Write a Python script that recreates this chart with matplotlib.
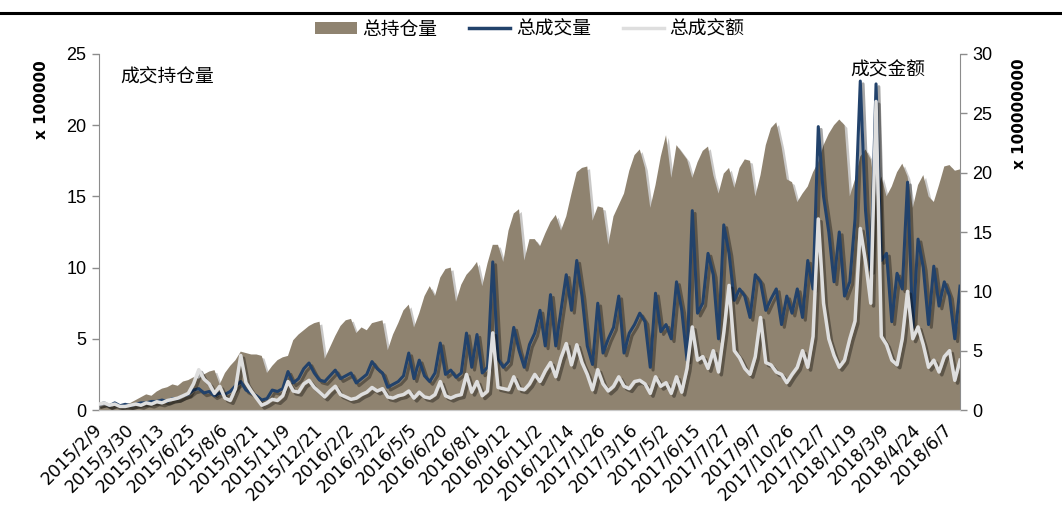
import numpy as np
import matplotlib
matplotlib.use('Agg')
import matplotlib.pyplot as plt
import matplotlib.patheffects as pe
from matplotlib.lines import Line2D
from matplotlib.patches import Patch

plt.rcParams['font.family'] = ['Liberation Sans', 'Noto Sans CJK SC', 'DejaVu Sans']
CJK = ['Noto Sans CJK SC', 'DejaVu Sans']

# ------------------------------------------------------------
# data (one sample every ~5 trading days)
# ------------------------------------------------------------
tick_labels = ['2015/2/9', '2015/3/30', '2015/5/13', '2015/6/25', '2015/8/6',
               '2015/9/21', '2015/11/9', '2015/12/21', '2016/2/2', '2016/3/22',
               '2016/5/5', '2016/6/20', '2016/8/1', '2016/9/12', '2016/11/2',
               '2016/12/14', '2017/1/26', '2017/3/16', '2017/5/2', '2017/6/15',
               '2017/7/27', '2017/9/7', '2017/10/26', '2017/12/7', '2018/1/19',
               '2018/3/9', '2018/4/24', '2018/6/7']

# 总持仓量 (x 100000)
hold = [0.2, 0.3, 0.3, 0.4, 0.3, 0.4, 0.5, 0.7, 0.9, 1.1,
        1.0, 1.3, 1.5, 1.6, 1.8, 1.7, 2.0, 2.1, 2.3, 2.2,
        2.5, 2.7, 2.8, 1.8, 2.6, 3.1, 3.5, 4.1, 4.0, 3.9,
        3.9, 3.8, 2.6, 3.1, 3.5, 3.7, 3.8, 4.9, 5.3, 5.6,
        5.9, 6.1, 6.2, 3.6, 4.4, 5.2, 5.9, 6.3, 6.4, 5.4,
        5.8, 5.6, 6.1, 6.2, 6.3, 4.2, 5.3, 6.1, 7.0, 7.4,
        5.8, 6.8, 8.0, 8.7, 8.0, 9.3, 9.9, 10.0, 7.6, 8.8,
        9.5, 9.9, 10.4, 8.7, 10.3, 11.6, 11.6, 10.4, 12.6, 13.8,
        14.1, 10.5, 12.0, 12.0, 11.5, 12.4, 13.2, 13.7, 12.6, 13.6,
        15.2, 16.7, 17.0, 17.1, 13.3, 14.3, 14.2, 11.6, 13.6, 14.4,
        15.2, 16.8, 17.9, 18.3, 17.0, 14.2, 15.8, 17.8, 19.3, 16.3,
        18.6, 18.1, 17.6, 16.3, 17.4, 18.2, 18.5, 16.5, 15.2, 16.6,
        17.0, 15.6, 17.0, 17.6, 17.5, 15.0, 16.5, 18.6, 19.8, 20.2,
        18.5, 16.2, 16.0, 14.6, 15.2, 15.7, 16.7, 17.4, 18.6, 19.4,
        20.0, 20.4, 20.0, 15.0, 16.2, 17.8, 18.3, 17.6, 15.0, 16.4,
        15.0, 15.7, 16.7, 17.3, 16.4, 14.2, 15.8, 16.5, 15.0, 14.6,
        15.8, 17.1, 17.2, 16.8, 16.9]

# 总成交量 (x 100000)
vol = [0.4, 0.5, 0.3, 0.5, 0.3, 0.4, 0.3, 0.4, 0.5, 0.5,
       0.6, 0.6, 0.7, 0.6, 0.8, 0.8, 1.0, 1.1, 1.4, 1.5,
       1.2, 1.3, 1.0, 1.2, 1.1, 1.3, 1.7, 2.0, 1.4, 1.2,
       1.0, 0.7, 0.8, 1.4, 1.3, 1.5, 2.7, 1.9, 2.2, 2.9,
       3.3, 2.6, 2.1, 2.0, 2.4, 2.8, 2.2, 2.4, 2.6, 1.9,
       2.2, 2.5, 3.4, 2.9, 2.6, 1.6, 1.8, 2.0, 2.4, 4.0,
       2.2, 3.5, 2.4, 2.0, 2.6, 4.7, 2.5, 2.8, 2.3, 2.6,
       5.4, 3.0, 5.3, 2.6, 3.0, 10.4, 3.6, 3.0, 3.4, 5.8,
       4.2, 3.0, 4.6, 5.4, 7.0, 4.5, 8.1, 4.5, 7.0, 9.5,
       7.0, 10.5, 8.0, 4.5, 3.2, 7.5, 4.0, 5.0, 5.8, 8.0,
       4.0, 5.4, 6.0, 6.8, 6.2, 3.0, 8.2, 5.5, 6.0, 5.0,
       9.0, 7.0, 3.5, 14.0, 6.8, 7.5, 11.0, 9.5, 5.0, 13.0,
       11.0, 7.7, 8.5, 8.0, 6.5, 9.5, 9.0, 7.0, 7.8, 8.5,
       6.0, 8.0, 6.8, 8.5, 6.5, 10.5, 8.5, 19.9, 15.0, 12.5,
       9.0, 12.5, 8.0, 9.0, 13.4, 23.1, 14.0, 9.8, 22.9, 10.5,
       11.0, 6.2, 9.6, 8.5, 16.0, 5.8, 12.0, 10.0, 6.0, 10.1,
       7.3, 9.0, 8.0, 5.0, 8.7]

# 总成交额 (x 100000000)
amt = [0.5, 0.6, 0.4, 0.5, 0.3, 0.3, 0.4, 0.5, 0.4, 0.6,
       0.5, 0.7, 0.6, 0.8, 0.9, 1.0, 1.2, 1.4, 2.2, 3.4,
       2.6, 2.2, 1.4, 2.0, 1.0, 0.8, 1.8, 4.6, 2.3, 1.6,
       1.0, 0.4, 0.6, 0.9, 0.8, 1.2, 2.4, 1.6, 1.5, 2.2,
       2.5, 1.9, 1.5, 1.1, 1.6, 2.0, 1.3, 1.1, 0.9, 1.0,
       1.3, 1.5, 1.9, 1.6, 1.8, 1.1, 1.0, 1.2, 1.3, 1.6,
       1.0, 1.5, 1.1, 1.0, 1.3, 2.4, 1.2, 1.0, 1.2, 1.3,
       3.0, 1.5, 2.4, 1.2, 1.6, 6.5, 1.9, 1.8, 1.7, 2.8,
       1.8, 1.7, 2.2, 3.0, 2.4, 3.3, 4.0, 2.8, 4.4, 5.6,
       3.8, 5.5, 4.0, 3.0, 1.7, 3.4, 2.2, 1.6, 2.0, 2.8,
       2.0, 1.8, 2.4, 2.5, 2.2, 1.4, 2.8, 2.0, 2.3, 1.4,
       2.8, 1.5, 3.5, 7.0, 4.2, 4.5, 3.5, 5.0, 3.2, 6.5,
       10.5, 5.0, 4.4, 3.5, 3.0, 4.5, 7.8, 4.0, 3.8, 3.2,
       3.0, 2.3, 3.0, 3.6, 5.0, 3.6, 6.2, 16.1, 9.0, 6.0,
       4.6, 3.6, 4.2, 6.0, 7.5, 15.3, 12.5, 9.0, 26.0, 6.2,
       5.5, 4.2, 3.8, 6.0, 10.0, 6.0, 7.0, 5.5, 3.6, 4.2,
       3.2, 4.5, 5.0, 2.5, 4.2]

TICK_EVERY = 6  # samples between date labels

# ------------------------------------------------------------
# plot
# ------------------------------------------------------------
c_hold = '#8f8370'
c_vol = '#22426b'
c_amt = '#dedede'
c_axis = '#8c8c8c'

x = np.arange(len(hold))

fig = plt.figure(figsize=(10.62, 5.07), dpi=100)
ax = fig.add_axes([0.0932, 0.1913, 0.8108, 0.7022])
ax2 = ax.twinx()

shadow = [pe.SimpleLineShadow(offset=(2, -2), alpha=0.35, shadow_color='black'), pe.Normal()]

area = ax.fill_between(x, 0, hold, color=c_hold, linewidth=0, zorder=1)
area.set_path_effects([pe.SimplePatchShadow(offset=(2, -2), alpha=0.25), pe.Normal()])
ax.plot(x, vol, color=c_vol, lw=2.2, zorder=2, path_effects=shadow)
ax2.plot(x, amt, color=c_amt, lw=2.5, zorder=3, path_effects=shadow)

ax.set_xlim(0, len(hold) - 1)
ax.set_ylim(0, 25)
ax2.set_ylim(0, 30)
ax.set_yticks(np.arange(0, 26, 5))
ax2.set_yticks(np.arange(0, 31, 5))

ax.set_xticks(np.arange(0, len(hold), TICK_EVERY)[:len(tick_labels)])
ax.set_xticklabels(tick_labels, rotation=45, ha='right', va='center',
                   rotation_mode='anchor', fontsize=12.5, family='DejaVu Sans')
ax.tick_params(axis='x', length=0, pad=12)
ax.tick_params(axis='y', labelsize=13, length=5, color=c_axis, width=1, pad=4)
ax2.tick_params(axis='y', labelsize=13, length=5, color=c_axis, width=1, pad=4)

for a in (ax, ax2):
    a.spines['top'].set_visible(False)
    a.spines['left'].set_color(c_axis)
    a.spines['right'].set_color(c_axis)
    a.spines['bottom'].set_color('#c8c8c8')
ax.spines['right'].set_visible(False)
ax2.spines['left'].set_visible(False)

# axis unit labels
fig.text(41 / 1062, 1 - 100 / 507, 'x 100000', rotation=90, fontsize=11,
         fontweight='bold', family='DejaVu Sans', ha='center', va='center')
fig.text(1020 / 1062, 1 - 114 / 507, 'x 100000000', rotation=90, fontsize=11,
         fontweight='bold', family='DejaVu Sans', ha='center', va='center')

# in-plot captions
ax.text(0.025, 0.965, '成交持仓量', transform=ax.transAxes, fontsize=13.5,
        family=CJK, ha='left', va='top')
ax.text(0.96, 0.985, '成交金额', transform=ax.transAxes, fontsize=13.5,
        family=CJK, ha='right', va='top')

# legend
handles = [Patch(facecolor=c_hold, edgecolor='none'),
           Line2D([], [], color=c_vol, lw=2.5),
           Line2D([], [], color=c_amt, lw=2.5)]
fig.legend(handles, ['总持仓量', '总成交量', '总成交额'], loc='center',
           bbox_to_anchor=(530 / 1062, 1 - 29 / 507), ncol=3, frameon=False,
           prop={'family': CJK, 'size': 13.5}, handlelength=2.2,
           handleheight=0.6, handletextpad=0.3, columnspacing=1.7)

# rule at the very top
fig.add_artist(Line2D([0, 1], [1 - 13 / 507] * 2, color='black', lw=2.2,
                      transform=fig.transFigure))

fig.savefig('out.png', dpi=100, facecolor='white')
